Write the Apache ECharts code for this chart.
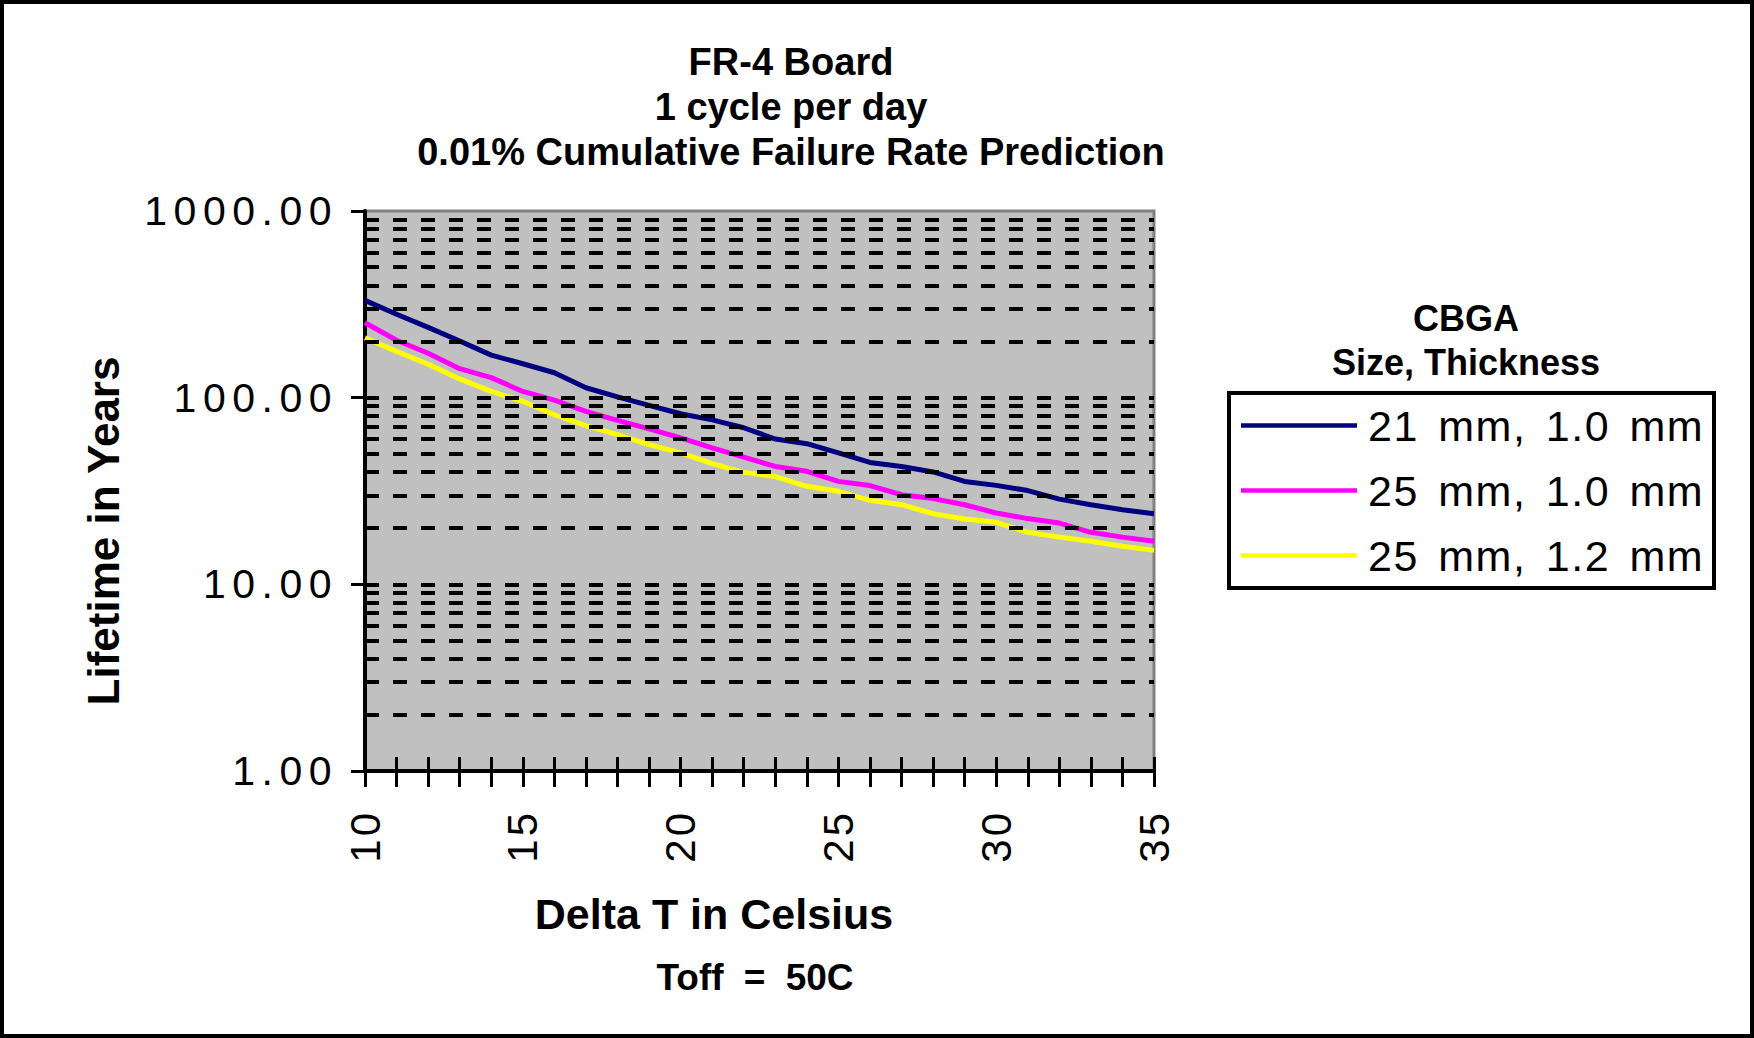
<!DOCTYPE html>
<html>
<head>
<meta charset="utf-8">
<script src="https://cdn.jsdelivr.net/npm/echarts@6/dist/echarts.min.js"></script>
<style>
  html, body { margin: 0; padding: 0; background: #fff; }
  #chart { width: 1754px; height: 1038px; }
  text[style*="41px"] { letter-spacing: 6.5px; }
  text[style*="42px"] { letter-spacing: 3px; }
  text[style*="43px"]:not([style*="bold"]) { letter-spacing: 1.5px; word-spacing: 6px; }
  text[style*="37px"] { word-spacing: 10px; }
</style>
</head>
<body>
<div id="chart"></div>
<script>
// ---- Data ----
const deltaT = [10, 11, 12, 13, 14, 15, 16, 17, 18, 19, 20, 21, 22, 23, 24, 25, 26, 27, 28, 29, 30, 31, 32, 33, 34, 35];
const cbga21mm10 = [332, 280, 238, 201, 169, 152, 136, 113, 101, 91, 82, 76, 69, 60, 56.7, 50.6, 45, 42.8, 40, 35.6, 33.9, 31.8, 28.6, 26.7, 25.1, 23.9];
const cbga25mm10 = [252, 203, 173, 143, 128, 108, 97, 84.5, 75.6, 68, 60.9, 53.8, 48, 42.8, 40.3, 35.6, 33.8, 30.2, 28.8, 26.7, 24.1, 22.5, 21.3, 19, 17.9, 17.0];
const cbga25mm12 = [209, 177, 151, 126, 108, 95.6, 81, 70.8, 63.4, 56, 50.6, 44.3, 39.8, 37.8, 33.5, 31.5, 28.2, 26.7, 23.9, 22.4, 21.5, 19, 17.9, 17, 16, 15.2];
const seriesNames = ['21 mm, 1.0 mm', '25 mm, 1.0 mm', '25 mm, 1.2 mm'];
const seriesColors = ['#000080', '#FF00FF', '#FFFF00'];
const titleLines = ['FR-4 Board', '1 cycle per day', '0.01% Cumulative Failure Rate Prediction'];
const legendTitle = ['CBGA', 'Size, Thickness'];
const xName = 'Delta T in Celsius';
const yName = 'Lifetime in Years';
const noteText = 'Toff = 50C';
const xMin = 10, xMax = 35, xStep = 1, xLabelStep = 5;
const yMin = 1, yMax = 1000;

// Gridline positions on the log axis (2..9, 10, 20..90, 100, 200..900)
const gridValues = [];
for (let d = yMin; d < yMax; d *= 10) {
  for (let m = 2; m <= 10; m++) {
    const v = m * d;
    if (v < yMax) gridValues.push(v);
  }
}

const FONT = 'Liberation Sans, Arial, sans-serif';
const pairs = (ys) => deltaT.map((x, i) => [x, ys[i]]);
const allValues = [cbga21mm10, cbga25mm10, cbga25mm12];

const chart = echarts.init(document.getElementById('chart'), null, { renderer: 'svg' });

const series = [{
  type: 'line',
  name: 'grid',
  data: [],
  z: 1,
  silent: true,
  markLine: {
    silent: true,
    animation: false,
    symbol: ['none', 'none'],
    label: { show: false },
    emphasis: { disabled: true },
    lineStyle: { color: '#000', width: 4, type: [14, 14], opacity: 1 },
    data: gridValues.map(v => ({ yAxis: v }))
  }
}];
allValues.forEach((vals, i) => {
  series.push({
    type: 'line',
    name: seriesNames[i],
    data: pairs(vals),
    symbol: 'none',
    showSymbol: false,
    legendIcon: 'rect',
    z: 3,
    lineStyle: { color: seriesColors[i], width: 5 },
    itemStyle: { color: seriesColors[i] },
    emphasis: { disabled: true }
  });
});

chart.setOption({
  animation: false,
  backgroundColor: '#ffffff',
  title: [
    {
      text: titleLines.join('\n'),
      left: 791, top: 39, padding: 0,
      textAlign: 'center',
      textStyle: { fontSize: 38, fontWeight: 'bold', fontFamily: FONT, color: '#000', lineHeight: 45 }
    },
    {
      text: legendTitle.join('\n'),
      left: 1466, top: 297, padding: 0,
      textAlign: 'center',
      textStyle: { fontSize: 36, fontWeight: 'bold', fontFamily: FONT, color: '#000', lineHeight: 43.5 }
    },
    {
      text: noteText,
      left: 755, top: 955, padding: 0,
      textAlign: 'center',
      textStyle: { fontSize: 37, fontWeight: 'bold', fontFamily: FONT, color: '#000', lineHeight: 44 }
    }
  ],
  graphic: [{
    type: 'rect',
    silent: true,
    shape: { x: 2, y: 2, width: 1750, height: 1034 },
    style: { fill: 'none', stroke: '#000', lineWidth: 4 },
    z: 100
  }],
  legend: {
    orient: 'vertical',
    left: 1229, top: 393,
    data: seriesNames,
    selectedMode: false,
    icon: 'rect',
    itemWidth: 116, itemHeight: 4.5, itemGap: 20,
    padding: [10, 8, 10, 12],
    borderColor: '#000', borderWidth: 4, backgroundColor: '#fff',
    itemStyle: { borderWidth: 0 },
    textStyle: { fontSize: 43, fontFamily: FONT, color: '#000', lineHeight: 45, width: 338, padding: [0, 0, 0, 6] }
  },
  grid: {
    left: 365, right: 600, top: 211, bottom: 267,
    show: true,
    backgroundColor: '#C0C0C0',
    borderColor: '#808080',
    borderWidth: 3,
    containLabel: false,
    outerBoundsMode: 'none'
  },
  xAxis: [
    {
      type: 'value', min: xMin, max: xMax, interval: xStep, position: 'bottom',
      axisLine: { show: true, onZero: false, lineStyle: { color: '#000', width: 4 } },
      axisTick: { show: true, inside: false, length: 16, lineStyle: { color: '#000', width: 3 } },
      axisLabel: {
        show: true, rotate: 90, margin: 39, fontSize: 42, fontFamily: FONT, color: '#000',
        formatter: v => (v % xLabelStep === 0 ? String(v) : '')
      },
      splitLine: { show: false },
      name: xName, nameLocation: 'middle', nameGap: 121, nameMoveOverlap: false,
      nameTextStyle: { fontSize: 43, fontWeight: 'bold', fontFamily: FONT, color: '#000', lineHeight: 44, padding: [0, 91, 0, 0] }
    },
    {
      type: 'value', min: xMin, max: xMax, interval: xStep, position: 'bottom',
      axisLine: { show: false },
      axisTick: { show: true, inside: true, length: 14, lineStyle: { color: '#000', width: 3 } },
      axisLabel: { show: false },
      splitLine: { show: false }
    }
  ],
  yAxis: {
    type: 'log', logBase: 10, min: yMin, max: yMax,
    axisLine: { show: true, onZero: false, lineStyle: { color: '#000', width: 4 } },
    axisTick: { show: true, inside: false, length: 14, lineStyle: { color: '#000', width: 3 } },
    axisLabel: { show: true, margin: 27, fontSize: 41, fontFamily: FONT, color: '#000', formatter: v => Number(v).toFixed(2) },
    splitLine: { show: false },
    minorTick: { show: false },
    name: yName, nameLocation: 'middle', nameGap: 240, nameRotate: 90, nameMoveOverlap: false,
    nameTextStyle: { fontSize: 44, fontWeight: 'bold', fontFamily: FONT, color: '#000', lineHeight: 44, padding: [0, 80, 0, 0] }
  },
  series: series
});
</script>
</body>
</html>
